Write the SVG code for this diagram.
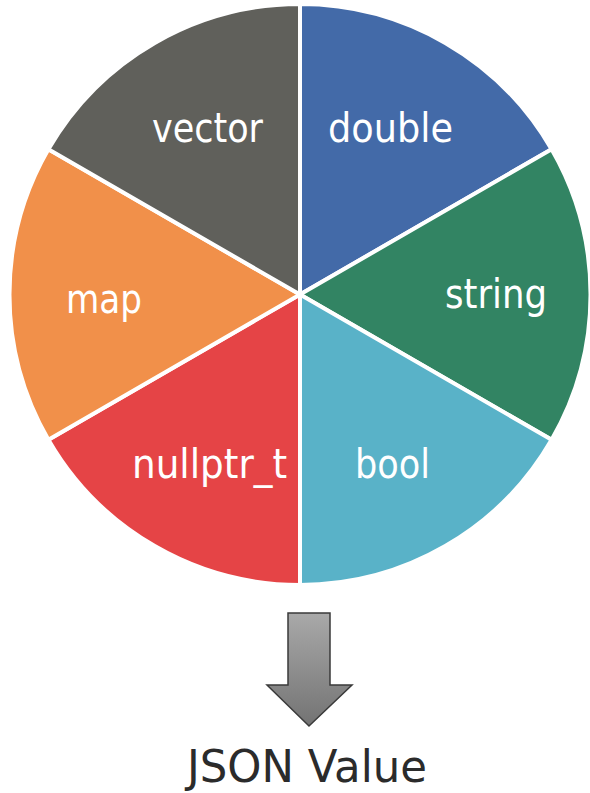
<svg xmlns="http://www.w3.org/2000/svg" width="590" height="793" viewBox="0 0 590 793">
  <style>
    .slice { stroke: #ffffff; stroke-width: 4; stroke-linejoin: round; }
    .lbl { font-family: "DejaVu Sans Condensed", "DejaVu Sans", Verdana, sans-serif; font-size: 40px; fill: #ffffff; }
    .title { font-family: "DejaVu Sans", Verdana, sans-serif; font-size: 45px; fill: #2b2b2b; }
  </style>
  <defs>
    <linearGradient id="arrowFill" x1="0" y1="0" x2="0" y2="1">
      <stop offset="0" stop-color="#a9a9a9"/>
      <stop offset="1" stop-color="#737373"/>
    </linearGradient>
  </defs>

  <!-- pie centre (300,294.5), radius 290.5; six 60-degree slices -->
  <g id="double">
    <path class="slice" fill="#436aa8" d="M300,294.5 L300,4 A290.5,290.5 0 0 1 551.6,149.25 Z"/>
    <text class="lbl" x="328" y="142" textLength="125" lengthAdjust="spacingAndGlyphs">double</text>
  </g>
  <g id="string">
    <path class="slice" fill="#328463" d="M300,294.5 L551.6,149.25 A290.5,290.5 0 0 1 551.6,439.75 Z"/>
    <text class="lbl" x="445" y="308" textLength="102" lengthAdjust="spacingAndGlyphs">string</text>
  </g>
  <g id="bool">
    <path class="slice" fill="#59b2c8" d="M300,294.5 L551.6,439.75 A290.5,290.5 0 0 1 300,585 Z"/>
    <text class="lbl" x="355" y="478" textLength="75" lengthAdjust="spacingAndGlyphs">bool</text>
  </g>
  <g id="nullptr_t">
    <path class="slice" fill="#e54446" d="M300,294.5 L300,585 A290.5,290.5 0 0 1 48.4,439.75 Z"/>
    <text class="lbl" x="132" y="478" textLength="155" lengthAdjust="spacingAndGlyphs">nullptr_t</text>
  </g>
  <g id="map">
    <path class="slice" fill="#f1904a" d="M300,294.5 L48.4,439.75 A290.5,290.5 0 0 1 48.4,149.25 Z"/>
    <text class="lbl" x="66" y="313" textLength="76" lengthAdjust="spacingAndGlyphs">map</text>
  </g>
  <g id="vector">
    <path class="slice" fill="#60605b" d="M300,294.5 L48.4,149.25 A290.5,290.5 0 0 1 300,4 Z"/>
    <text class="lbl" x="152" y="142" textLength="111" lengthAdjust="spacingAndGlyphs">vector</text>
  </g>

  <g id="connectors">
    <path d="M288,613 L330,613 L330,685 L352,685 L309,726 L267,685 L288,685 Z" fill="url(#arrowFill)" stroke="#3a3a3a" stroke-width="1.5" stroke-linejoin="miter"/>
  </g>

  <g id="json-value">
    <text class="title" x="187" y="782" textLength="240" lengthAdjust="spacingAndGlyphs">JSON Value</text>
  </g>
</svg>
